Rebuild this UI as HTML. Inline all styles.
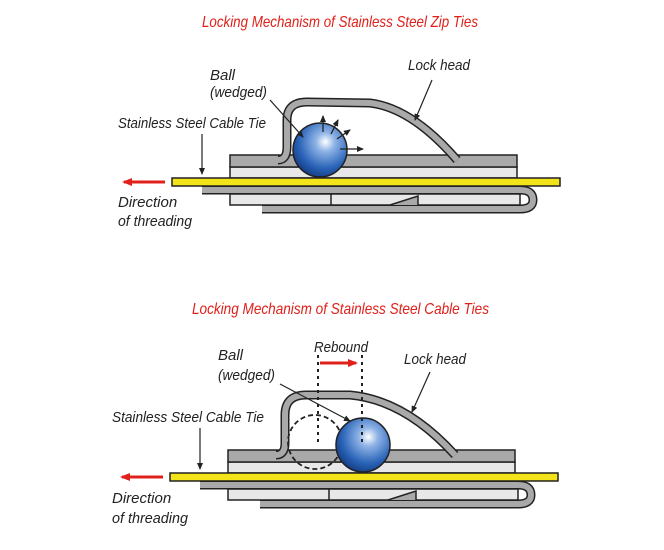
<!DOCTYPE html>
<html><head><meta charset="utf-8"><style>
html,body{margin:0;padding:0;background:#fff;width:664px;height:550px;overflow:hidden}
text{font-family:"Liberation Sans Narrow","Liberation Sans",sans-serif;font-style:italic}
</style></head><body>
<svg width="664" height="550" viewBox="0 0 664 550" xmlns="http://www.w3.org/2000/svg">
<defs>
<radialGradient id="bg" cx="0.6" cy="0.35" r="0.7">
<stop offset="0" stop-color="#ffffff"/><stop offset="0.25" stop-color="#8fb4e6"/><stop offset="0.7" stop-color="#2a63b8"/><stop offset="1" stop-color="#123a80"/>
</radialGradient>
<marker id="ah" markerUnits="userSpaceOnUse" markerWidth="8" markerHeight="8" refX="6" refY="3" orient="auto"><path d="M0,0 L7,3 L0,6 z" fill="#222"/></marker>
<marker id="rh" markerUnits="userSpaceOnUse" markerWidth="12" markerHeight="12" refX="8" refY="4" orient="auto"><path d="M0,0 L10,4 L0,8 z" fill="#e0201a"/></marker>
<g id="base">
<path d="M202 190 L520 190 Q533 190 533 200 Q533 209 520 209 L262 209" fill="none" stroke="#222" stroke-width="9"/>
<path d="M202 190 L520 190 Q533 190 533 200 Q533 209 520 209 L262 209" fill="none" stroke="#a9a9a9" stroke-width="6"/>
<rect x="230" y="194" width="290" height="11" fill="#e8e8e8" stroke="#222" stroke-width="1.5"/>
<line x1="331" y1="194" x2="331" y2="205" stroke="#222" stroke-width="1.5"/>
<path d="M390 205 L418 196 L418 205" fill="#a9a9a9" stroke="#222" stroke-width="1.5"/>
<rect x="230" y="167" width="287" height="11" fill="#e8e8e8" stroke="#222" stroke-width="1.5"/>
<rect x="230" y="155" width="287" height="12" fill="#a9a9a9" stroke="#222" stroke-width="1.5"/>
<rect x="172" y="178" width="388" height="8" fill="#f2e31a" stroke="#222" stroke-width="1.5"/>
</g>
</defs>

<text x="202" y="27" font-size="16" fill="#e0201a" textLength="276" lengthAdjust="spacingAndGlyphs">Locking Mechanism of Stainless Steel Zip Ties</text>

<use href="#base"/>
<path d="M278 160 Q287 160 287 147 L287 120 Q287 102 307 102 L370 103 Q412 108 457 160" fill="none" stroke="#222" stroke-width="9"/>
<path d="M278 160 Q287 160 287 147 L287 120 Q287 102 307 102 L370 103 Q412 108 457 160" fill="none" stroke="#a9a9a9" stroke-width="6"/>
<circle cx="320" cy="150" r="27" fill="url(#bg)" stroke="#222" stroke-width="1.5"/>
<g stroke="#222" stroke-width="1.3" marker-end="url(#ah)">
<line x1="323" y1="132" x2="323" y2="116"/>
<line x1="331" y1="134" x2="338" y2="120"/>
<line x1="337" y1="139" x2="350" y2="130"/>
<line x1="340" y1="149" x2="363" y2="149"/>
</g>
<text x="210" y="80" font-size="15" fill="#222">Ball</text>
<text x="210" y="97" font-size="15" fill="#222" textLength="57" lengthAdjust="spacingAndGlyphs">(wedged)</text>
<line x1="270" y1="100" x2="303" y2="137" stroke="#222" stroke-width="1.2" marker-end="url(#ah)"/>
<text x="408" y="70" font-size="15" fill="#222" textLength="62" lengthAdjust="spacingAndGlyphs">Lock head</text>
<line x1="432" y1="80" x2="415" y2="120" stroke="#222" stroke-width="1.2" marker-end="url(#ah)"/>
<text x="118" y="128" font-size="15" fill="#222" textLength="148" lengthAdjust="spacingAndGlyphs">Stainless Steel Cable Tie</text>
<line x1="202" y1="134" x2="202" y2="174" stroke="#222" stroke-width="1.2" marker-end="url(#ah)"/>
<line x1="165" y1="182" x2="124" y2="182" stroke="#e0201a" stroke-width="3" marker-end="url(#rh)"/>
<text x="118" y="207" font-size="15" fill="#222">Direction</text>
<text x="118" y="226" font-size="15" fill="#222" textLength="74" lengthAdjust="spacingAndGlyphs">of threading</text>

<text x="192" y="314" font-size="16" fill="#e0201a" textLength="297" lengthAdjust="spacingAndGlyphs">Locking Mechanism of Stainless Steel Cable Ties</text>

<g transform="translate(-2,295)"><use href="#base"/></g>
<path d="M276 455 Q285 455 285 443 L285 415 Q285 395 306 395 L350 395 Q405 400 455 455" fill="none" stroke="#222" stroke-width="9"/>
<path d="M276 455 Q285 455 285 443 L285 415 Q285 395 306 395 L350 395 Q405 400 455 455" fill="none" stroke="#a9a9a9" stroke-width="6"/>
<circle cx="315" cy="442" r="27" fill="none" stroke="#222" stroke-width="1.8" stroke-dasharray="5,3"/>
<circle cx="363" cy="445" r="27" fill="url(#bg)" stroke="#222" stroke-width="1.5"/>
<line x1="318" y1="355" x2="318" y2="445" stroke="#222" stroke-width="2" stroke-dasharray="3,4"/>
<line x1="362" y1="355" x2="362" y2="445" stroke="#222" stroke-width="2" stroke-dasharray="3,4"/>
<text x="314" y="352" font-size="15" fill="#222" textLength="54" lengthAdjust="spacingAndGlyphs">Rebound</text>
<line x1="320" y1="363" x2="356" y2="363" stroke="#e0201a" stroke-width="3" marker-end="url(#rh)"/>
<text x="218" y="360" font-size="15" fill="#222">Ball</text>
<text x="218" y="380" font-size="15" fill="#222" textLength="57" lengthAdjust="spacingAndGlyphs">(wedged)</text>
<line x1="280" y1="384" x2="350" y2="421" stroke="#222" stroke-width="1.2" marker-end="url(#ah)"/>
<text x="404" y="364" font-size="15" fill="#222" textLength="62" lengthAdjust="spacingAndGlyphs">Lock head</text>
<line x1="430" y1="372" x2="412" y2="412" stroke="#222" stroke-width="1.2" marker-end="url(#ah)"/>
<text x="112" y="422" font-size="15" fill="#222" textLength="152" lengthAdjust="spacingAndGlyphs">Stainless Steel Cable Tie</text>
<line x1="200" y1="428" x2="200" y2="469" stroke="#222" stroke-width="1.2" marker-end="url(#ah)"/>
<line x1="163" y1="477" x2="122" y2="477" stroke="#e0201a" stroke-width="3" marker-end="url(#rh)"/>
<text x="112" y="503" font-size="15" fill="#222">Direction</text>
<text x="112" y="523" font-size="15" fill="#222" textLength="76" lengthAdjust="spacingAndGlyphs">of threading</text>
</svg>
</body></html>
